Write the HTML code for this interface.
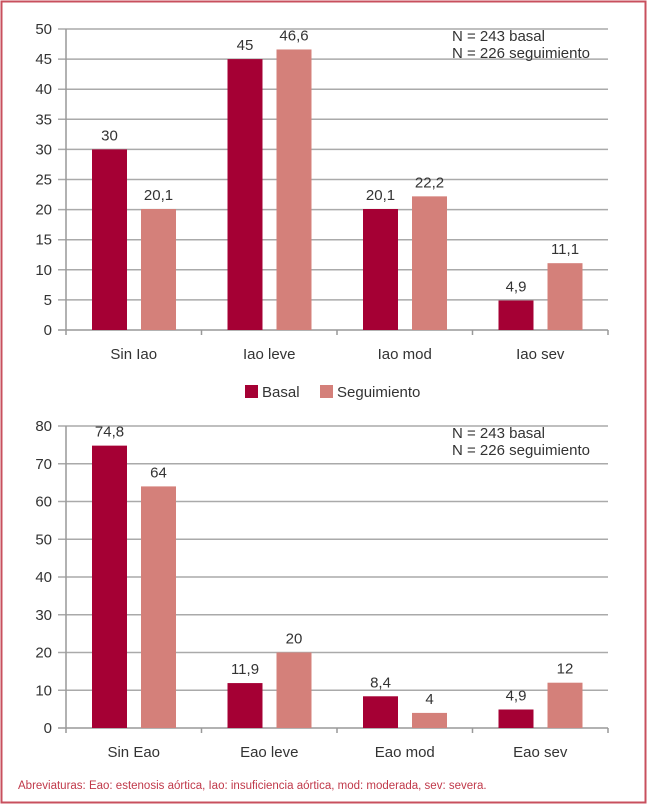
<!DOCTYPE html>
<html><head><meta charset="utf-8"><style>
html,body{margin:0;padding:0;background:#fff;}
svg{display:block;font-family:"Liberation Sans",sans-serif;}
</style></head><body>
<svg id="svg" width="650" height="805">
<rect x="1.5" y="1.5" width="644" height="801" fill="none" stroke="#c8505e" stroke-width="2"/>
<g id="top"></g>
<g id="bot"></g>
<g>
<rect x="245" y="385" width="13" height="13" fill="#a50034"/>
<text x="262" y="397" font-size="15" fill="#333">Basal</text>
<rect x="320" y="385" width="13" height="13" fill="#d4807a"/>
<text x="337" y="397" font-size="15" fill="#333">Seguimiento</text>
</g>
<text x="18" y="789" font-size="11.5" fill="#c0394a">Abreviaturas: Eao: estenosis aórtica, Iao: insuficiencia aórtica, mod: moderada, sev: severa.</text>
</svg>
<script>
const topCategories=["Sin Iao","Iao leve","Iao mod","Iao sev"];
const topBasal=[30,45,20.1,4.9];
const topSeg=[20.1,46.6,22.2,11.1];
const topTicks=[0,5,10,15,20,25,30,35,40,45,50];
const botCategories=["Sin Eao","Eao leve","Eao mod","Eao sev"];
const botBasal=[74.8,11.9,8.4,4.9];
const botSeg=[64,20,4,12];
const botTicks=[0,10,20,30,40,50,60,70,80];
const NS="http://www.w3.org/2000/svg";
function mk(p,t,a){const e=document.createElementNS(NS,t);for(const k in a)e.setAttribute(k,a[k]);p.appendChild(e);return e;}
function fmt(v){return String(v).replace('.',',');}
function draw(g,cats,b,s,ticks,yTop,yBot,ann){
  const x0=66,x1=608,max=ticks[ticks.length-1];
  const y=v=>yBot-(v/max)*(yBot-yTop);
  const cw=(x1-x0)/cats.length;
  ticks.forEach(t=>{
    const l=mk(g,'line',{x1:x0-8,x2:x1,y1:y(t),y2:y(t),stroke:t===0?'#999':'#aaa','stroke-width':1.5});
    
    
    const tx=mk(g,'text',{x:x0-14,y:y(t)+5,'text-anchor':'end','font-size':15,fill:'#333'});
    tx.textContent=t;
    
    
  });
  const ax=mk(g,'line',{x1:x0,x2:x0,y1:yTop,y2:yBot+5,stroke:'#999','stroke-width':1.5});
  
  
  cats.forEach((c,i)=>{
    const cx=x0+cw*i;
    const tk=mk(g,'line',{x1:cx+cw,x2:cx+cw,y1:yBot,y2:yBot+5,stroke:'#999','stroke-width':1.5});
    
    
    [[b[i],'#a50034',26,'basal'],[s[i],'#d4807a',75,'seguimiento']].forEach(([v,col,off,nm])=>{
      const r=mk(g,'rect',{x:cx+off,y:y(v),width:35,height:yBot-y(v),fill:col});
      
      
      const lt=mk(g,'text',{x:cx+off+17.5,y:y(v)-9,'text-anchor':'middle','font-size':15,fill:'#333'});
      lt.textContent=fmt(v);
      
      
    });
    const cl=mk(g,'text',{x:cx+cw/2,y:yBot+29,'text-anchor':'middle','font-size':15,fill:'#333'});
    cl.textContent=c;
    
    
  });
  ann.forEach((t,k)=>{
    const a=mk(g,'text',{x:452,y:yTop+12+k*17,'font-size':15,fill:'#333'});
    a.textContent=t;
    
    
  });
}
const ann=["N = 243 basal","N = 226 seguimiento"];
draw(document.getElementById('top'),topCategories,topBasal,topSeg,topTicks,29,330,ann);
draw(document.getElementById('bot'),botCategories,botBasal,botSeg,botTicks,426,728,ann);
</script>
</body></html>
